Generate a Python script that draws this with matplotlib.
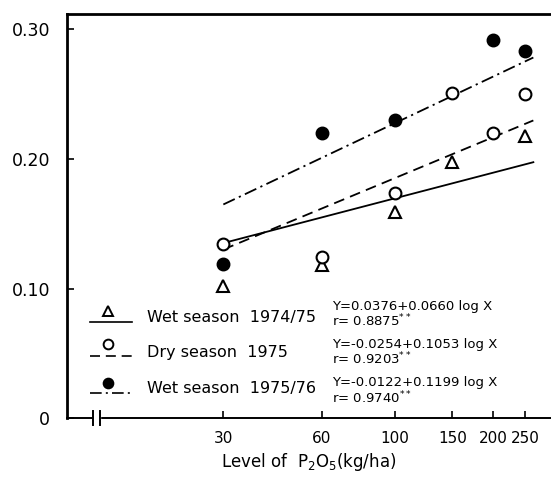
import numpy as np
import matplotlib.pyplot as plt

# P2O5 levels (kg/ha) and observed values for each season
levels = [30, 60, 100, 150, 200, 250]
wet_7475 = [0.102, 0.118, 0.159, 0.198, None, 0.218]
dry_75 = [0.134, 0.124, 0.174, 0.251, 0.220, 0.250]
wet_7576 = [0.119, 0.220, 0.230, None, 0.292, 0.283]

# regression coefficients Y = a + b log X
fit_a = [0.0376, -0.0254, -0.0122]
fit_b = [0.0660, 0.1053, 0.1199]
fit_r = ["0.8875", "0.9203", "0.9740"]
fit_range = [30, 265]

labels = ["Wet season  1974/75", "Dry season  1975", "Wet season  1975/76"]
xticks = [30, 60, 100, 150, 200, 250]
yticks = [0, 0.10, 0.20, 0.30]
ytick_labels = ["0", "0.10", "0.20", "0.30"]

fig = plt.figure(figsize=(5.51, 4.80), dpi=100)
ax = fig.add_axes([0.1216, 0.129, 0.8784, 0.842])

styles = [
    dict(marker="^", mfc="white", ms=9, ls="-"),
    dict(marker="o", mfc="white", ms=8.5, ls=(0, (6, 3.5))),
    dict(marker="o", mfc="black", ms=8.5, ls=(0, (7, 2.5, 1.2, 2.5))),
]

for ys, a, b, st in zip([wet_7475, dry_75, wet_7576], fit_a, fit_b, styles):
    xs = [x for x, y in zip(levels, ys) if y is not None]
    vals = [y for y in ys if y is not None]
    ax.plot(xs, vals, ls="none", marker=st["marker"], mfc=st["mfc"],
            mec="black", mew=1.5, ms=st["ms"], zorder=3)
    fx = np.array(fit_range, dtype=float)
    ax.plot(fx, a + b * np.log10(fx), color="black", lw=1.3, ls=st["ls"])

ax.set_xscale("log")
ax.set_xlim(10, 300)
ax.set_ylim(0, 0.312)
ax.set_xticks(xticks)
ax.set_xticklabels([str(v) for v in xticks])
ax.xaxis.set_minor_locator(plt.NullLocator())
ax.set_yticks(yticks)
ax.set_yticklabels(ytick_labels)
ax.tick_params(direction="in", length=5, width=1.2)
ax.tick_params(axis="y", pad=12, labelsize=12.5)
ax.tick_params(axis="x", pad=9, labelsize=11)
ax.set_xlabel("Level of  P$_2$O$_5$(kg/ha)", fontsize=12, labelpad=4)

ax.spines["right"].set_visible(False)
ax.spines["top"].set_linewidth(2.0)
ax.spines["left"].set_linewidth(2.0)
ax.spines["bottom"].set_linewidth(1.4)

# axis break near the origin
ax.add_patch(plt.Rectangle((0.054, -0.01), 0.014, 0.02, transform=ax.transAxes,
                           color="white", clip_on=False, zorder=5))
for bx in (0.054, 0.068):
    ax.plot([bx, bx], [-0.018, 0.018], transform=ax.transAxes, color="black",
            lw=1.4, clip_on=False, zorder=6)

# hand-drawn key with fitted equations
key_marker_y = [0.265, 0.183, 0.087]
key_line_y = [0.238, 0.153, 0.062]
key_text_y = [0.250, 0.163, 0.074]
eq_y = [0.277, 0.181, 0.087]
r_y = [0.240, 0.146, 0.050]
for i, st in enumerate(styles):
    ax.plot([0.0847], [key_marker_y[i]], transform=ax.transAxes, ls="none",
            marker=st["marker"], mfc=st["mfc"], mec="black", mew=1.4,
            ms=st["ms"] - 1.5, clip_on=False)
    ax.plot([0.0475, 0.134], [key_line_y[i]] * 2, transform=ax.transAxes,
            color="black", lw=1.2, ls=st["ls"], clip_on=False)
    ax.text(0.165, key_text_y[i], labels[i], transform=ax.transAxes,
            fontsize=11.5, va="center")
    ax.text(0.5475, eq_y[i],
            f"Y={fit_a[i]:.4f}+{fit_b[i]:.4f} log X",
            transform=ax.transAxes, fontsize=9.5, va="center")
    ax.text(0.5475, r_y[i], f"r= {fit_r[i]}$^{{**}}$", transform=ax.transAxes,
            fontsize=9.5, va="center")

fig.savefig("out.png", dpi=100)
